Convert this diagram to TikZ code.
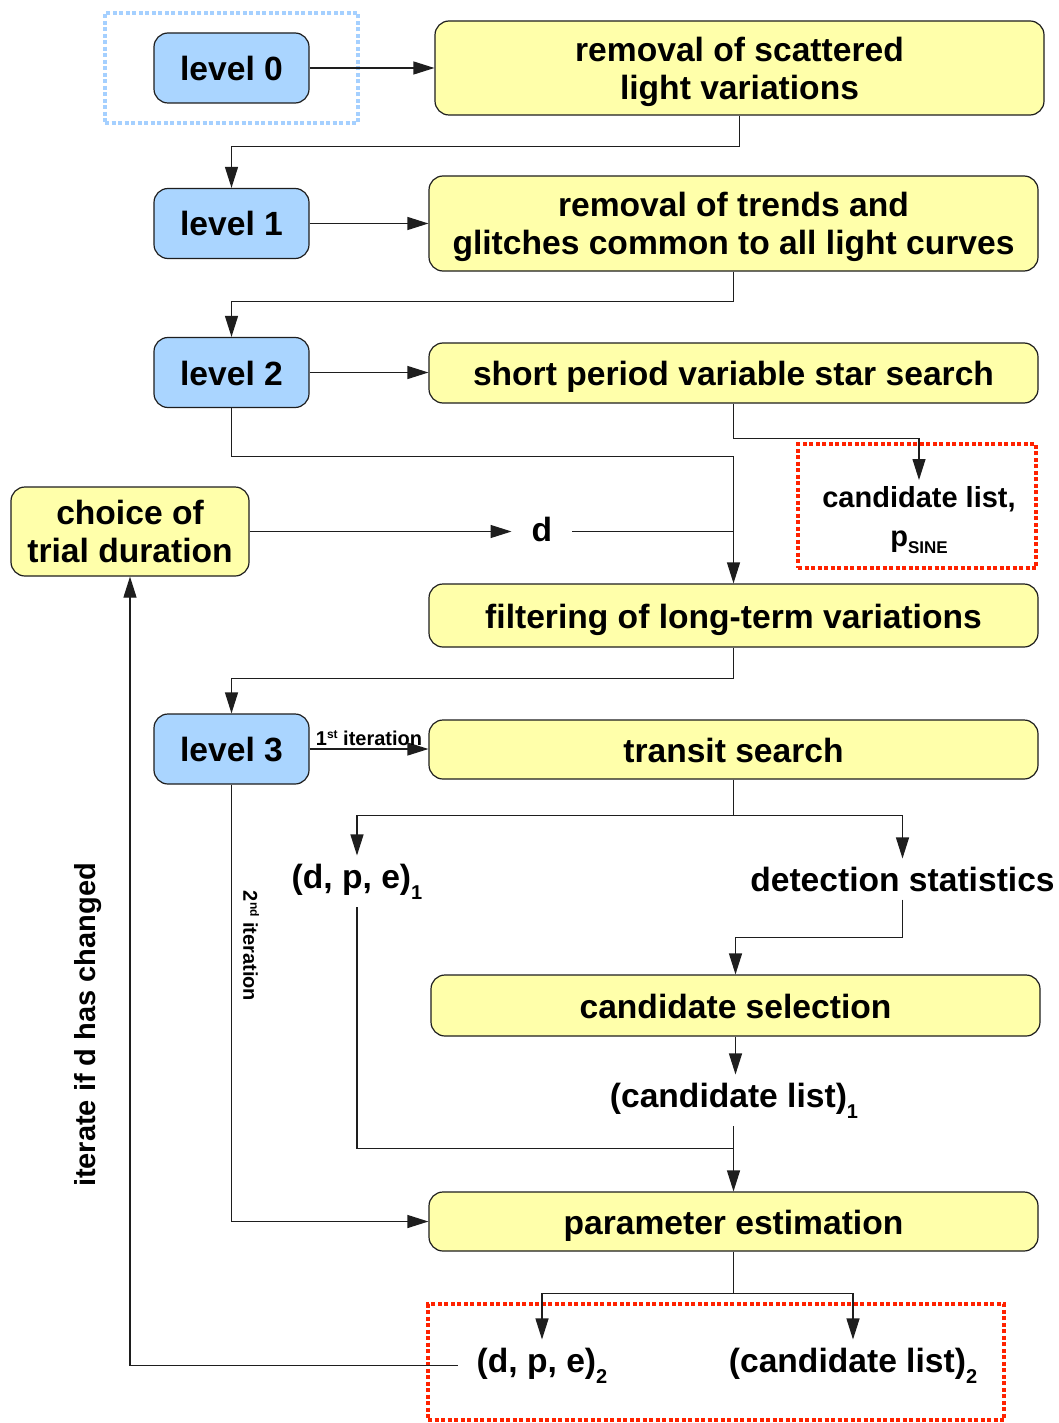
\documentclass[tikz,border=0pt]{standalone}
\usepackage{fontspec}
\setmainfont{Liberation Sans}
\usetikzlibrary{arrows.meta}
\definecolor{boxblue}{RGB}{170,213,255}
\definecolor{boxyellow}{RGB}{255,255,170}
\definecolor{framered}{RGB}{255,34,0}
\definecolor{frameblue}{RGB}{165,208,255}
\definecolor{inkgray}{RGB}{30,30,30}
\newcommand\lowsub[3]{\raisebox{-#1}{\fontsize{#2}{#2}\selectfont #3}}
\newcommand\highsup[1]{\raisebox{7pt}{\fontsize{12}{12}\selectfont #1}}
\begin{document}
\begin{tikzpicture}[x=1pt,y=-1pt,
  bigtext/.style={font=\bfseries\fontsize{33.6}{38}\selectfont},
  smalltext/.style={font=\bfseries\fontsize{20}{22}\selectfont},
  lvl/.style={bigtext, draw=inkgray, line width=1.2pt, fill=boxblue, rounded corners=14pt,
    minimum width=155pt, minimum height=70pt, inner sep=0pt, text height=25pt, text depth=0pt},
  proc/.style={bigtext, draw=inkgray, line width=1.2pt, fill=boxyellow, rounded corners=14pt,
    minimum width=609pt, inner sep=0pt, align=center, text depth=0pt},
  lbl/.style={bigtext, inner xsep=0pt, inner ysep=8pt},
  ln/.style={draw=inkgray, line width=1.2pt},
  arr/.style={ln, -{Triangle[length=21pt,width=13pt]}},
  redframe/.style={draw=framered, line width=4.5pt, dash pattern=on 4pt off 2.5pt, inner sep=0pt},
  blueframe/.style={draw=frameblue, line width=4.5pt, dash pattern=on 4pt off 2.5pt, inner sep=0pt},
]
\fill[white] (0,0) rectangle (1058,1423);
\useasboundingbox (0,0) rectangle (1058,1423);

% frames
\node[blueframe, minimum width=253pt, minimum height=110pt] (bf0) at (231.5,68) {};
\node[redframe, minimum width=238pt, minimum height=124pt] (cfr) at (917,506) {};
\node[redframe, minimum width=576pt, minimum height=116pt] (bfr) at (716,1362) {};

% boxes
\node[lvl] (l0) at (231.5,68) {level 0};
\node[proc, minimum height=94pt] (rs) at (739.5,68) {removal of scattered\\light variations};
\node[lvl] (l1) at (231.5,223.5) {level 1};
\node[proc, minimum height=95pt] (rt) at (733.5,223.5) {removal of trends and\\glitches common to all light curves};
\node[lvl] (l2) at (231.5,372.5) {level 2};
\node[proc, minimum height=60pt, text height=25pt] (sp) at (733.5,373) {short period variable star search};
\node[font=\bfseries\fontsize{29}{39}\selectfont, align=center, inner xsep=0pt, inner ysep=6pt, anchor=north] (cand) at (919,480) {candidate list,\\p\lowsub{7pt}{17}{SINE}};
\node[proc, minimum width=238pt, minimum height=89pt] (ch) at (130,531.5) {choice of\\trial duration};
\node[bigtext, inner ysep=0pt, inner xsep=20pt, text height=24pt, text depth=0pt] (dd) at (542,529) {d};
\node[proc, minimum height=63pt, text height=25pt] (fl) at (733.5,615.5) {filtering of long-term variations};
\node[lvl] (l3) at (231.5,749) {level 3};
\node[proc, minimum height=59pt, text height=25pt] (ts) at (733.5,749.5) {transit search};
\node[lbl, anchor=base] (dpe1) at (357,888) {(d, p, e)\lowsub{11pt}{20}{1}};
\node[lbl, anchor=base] (ds) at (902.5,891) {detection statistics};
\node[proc, minimum height=61pt, text height=25pt] (cs) at (735.5,1005.5) {candidate selection};
\node[lbl, anchor=base] (cl1) at (734,1107) {(candidate list)\lowsub{11pt}{20}{1}};
\node[proc, minimum height=59pt, text height=25pt] (pe) at (733.5,1221.5) {parameter estimation};
\node[lbl, anchor=base, inner xsep=19pt] (dpe2) at (542,1372) {(d, p, e)\lowsub{11pt}{20}{2}};
\node[lbl, anchor=base] (cl2) at (853,1372) {(candidate list)\lowsub{11pt}{20}{2}};

% rotated labels
\node[smalltext, rotate=-90, inner sep=0pt] (it2) at (251,946) {2\highsup{nd} iteration};
\node[font=\bfseries\fontsize{29}{32}\selectfont, rotate=90, inner sep=0pt] (iter) at (88,1025) {iterate if d has changed};

% connectors
\draw[arr] (l0.east) -- (rs.west);
\draw[arr] (rs.south) -- ++(0,31) -| (l1.north);
\draw[arr] (l1.east) -- (rt.west);
\draw[arr] (rt.south) -- ++(0,30) -| (l2.north);
\draw[arr] (l2.east) -- (l2.east -| sp.west);
\draw[arr] (sp.south) -- ++(0,35) -| (cand.north);
\draw[arr] (l2.south) -- ++(0,48) -| (fl.north);
\draw[arr] (ch.east) -- (ch.east -| dd.west);
\draw[ln] (dd.east |- ch.east) -- (ch.east -| fl.north);
\draw[arr] (fl.south) -- ++(0,31) -| (l3.north);
\draw[arr] (l3.east) -- (l3.east -| ts.west)
  node[midway, above=3pt, smalltext, inner sep=0pt] (it1) {1\highsup{st} iteration};
\draw[arr] (ts.south) -- ++(0,36) coordinate (tsj) -| (dpe1.north);
\draw[arr] (tsj) -| (ds.north);
\draw[arr] (ds.south) -- ++(0,38) -| (cs.north);
\draw[arr] (cs.south) -- (cs.south |- cl1.north);
\path (pe.north) ++(0,-43) coordinate (j14);
\draw[ln] (dpe1.south) |- (j14);
\draw[arr] (cl1.south -| pe.north) -- (pe.north);
\draw[arr] (l3.south) |- (pe.west);
\draw[arr] (pe.south) -- ++(0,42) coordinate (pj) -| (dpe2.north);
\draw[arr] (pj) -| (cl2.north);
\draw[arr] (dpe2.west) -| (ch.south);
\end{tikzpicture}
\end{document}
